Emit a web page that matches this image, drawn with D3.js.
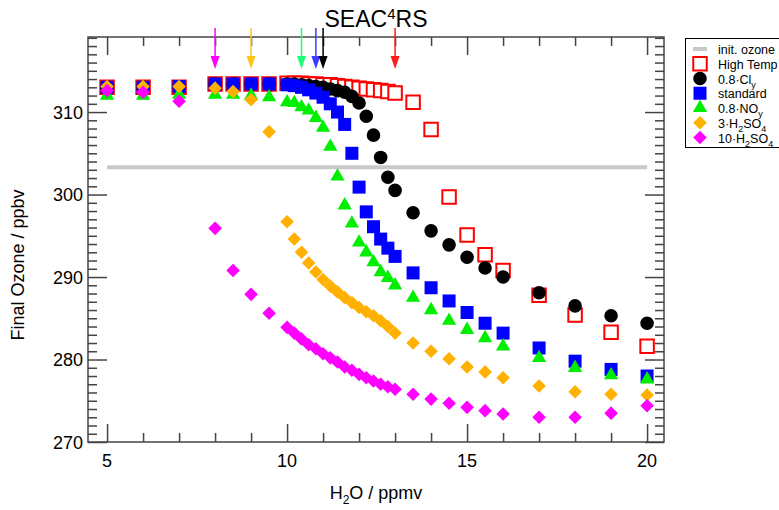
<!DOCTYPE html>
<html>
<head>
<meta charset="utf-8">
<script src="https://cdn.jsdelivr.net/npm/d3@7"></script>
<style>
  body { margin: 0; background: #fff; }
  svg { display: block; font-family: "Liberation Sans", Arial, sans-serif; }
</style>
</head>
<body>
<svg id="chart"></svg>
<script>
let width = 779;
let height = 510;

// H2O mixing ratio (ppmv) shared by every run
let h2o = [5, 6, 7, 8, 8.5, 9, 9.5,
  10, 10.2, 10.4, 10.6, 10.8, 11, 11.2, 11.4, 11.6, 11.8, 12, 12.2, 12.4, 12.6, 12.8, 13,
  13.5, 14, 14.5, 15, 15.5, 16, 17, 18, 19, 20];

// final ozone (ppbv) per run
let highTemp = [313.0, 313.0, 313.0, 313.4, 313.4, 313.4, 313.4,
  313.5, 313.5, 313.5, 313.4, 313.4, 313.3, 313.3, 313.2, 313.1, 313.0, 312.9, 312.8, 312.7, 312.6, 312.5, 312.3,
  311.2, 307.9, 299.7, 295.1, 292.7, 290.8, 287.8, 285.4, 283.3, 281.6];
let cly08 = [313.0, 313.0, 313.0, 313.4, 313.4, 313.4, 313.4,
  313.4, 313.4, 313.3, 313.2, 313.1, 313.0, 312.8, 312.6, 312.4, 311.9, 311.1, 309.5, 307.2, 304.5, 302.1, 300.5,
  297.8, 295.6, 293.9, 292.4, 291.1, 290.0, 288.1, 286.5, 285.3, 284.4];
let standard = [313.0, 313.0, 313.1, 313.4, 313.4, 313.4, 313.4,
  313.3, 313.2, 313.0, 312.7, 312.3, 311.8, 311.0, 310.0, 308.5, 305.0, 300.9, 297.9, 296.1, 294.6, 293.5, 292.5,
  290.5, 288.7, 287.1, 285.7, 284.4, 283.2, 281.4, 279.8, 278.8, 278.0];
let noy08 = [312.0, 312.0, 312.1, 312.1, 312.1, 312.0, 311.8,
  311.2, 311.1, 310.6, 310.2, 309.3, 308.1, 305.8, 302.2, 298.7, 296.5, 294.2, 293.0, 291.8, 290.6, 289.9, 289.0,
  287.5, 286.0, 284.7, 283.6, 282.6, 281.6, 280.2, 279.0, 278.1, 277.6];
let h2so4x3 = [313.1, 313.1, 313.1, 312.9, 312.5, 311.5, 307.6,
  296.7, 294.6, 293.0, 291.7, 290.6, 289.7, 288.9, 288.2, 287.5, 286.9, 286.3, 285.8, 285.3, 284.7, 284.0, 283.2,
  282.0, 281.0, 280.1, 279.1, 278.5, 277.8, 276.8, 276.1, 275.8, 275.7];
let h2so4x10 = [312.6, 312.4, 311.3, 295.9, 290.8, 287.9, 285.6,
  283.9, 283.2, 282.5, 281.8, 281.3, 280.7, 280.2, 279.7, 279.1, 278.7, 278.2, 277.8, 277.4, 277.0, 276.7, 276.4,
  275.8, 275.2, 274.7, 274.2, 273.8, 273.4, 273.0, 273.0, 273.5, 274.4];

let initOzone = 303.3;

// arrows on top axis
let arrowX = [8, 9, 10.4, 10.8, 11, 13];
let arrowColors = ['#ff00ff', '#ffc61a', '#1aff77', '#3d3dff', '#000000', '#ff1a1a'];

let xMajor = [5, 10, 15, 20];
let xMinor = d3.range(5, 21).filter(v => v % 5 !== 0);
let yMajor = [270, 280, 290, 300, 310];
let yMinor = d3.range(271, 320).filter(v => v % 10 !== 0);

let series = [
  { values: highTemp, shape: 'open', color: '#ff0000', label: [['High Temp', '']] },
  { values: cly08, shape: 'circle', color: '#000000', label: [['0.8·Cl', ''], ['y', 'sub']] },
  { values: standard, shape: 'square', color: '#0000ff', label: [['standard', '']] },
  { values: noy08, shape: 'triangle', color: '#00ee00', label: [['0.8·NO', ''], ['y', 'sub']] },
  { values: h2so4x3, shape: 'diamond', color: '#ffb000', label: [['3·H', ''], ['2', 'sub'], ['SO', ''], ['4', 'sub']] },
  { values: h2so4x10, shape: 'diamond', color: '#ff00ff', label: [['10·H', ''], ['2', 'sub'], ['SO', ''], ['4', 'sub']] }
];

let plotLeft = 88, plotRight = 664, plotTop = 37, plotBottom = 442;

let xScale = d3.scaleLinear()
                .domain([4.47, 20.47])
                .range([plotLeft, plotRight]);

let yScale = d3.scaleLinear()
                .domain([270, 319.1])
                .range([plotBottom, plotTop]);

let svg = d3.select('#chart')
            .attr('width', width)
            .attr('height', height);

svg.append('rect')
    .attr('width', width)
    .attr('height', height)
    .attr('fill', '#fff');

// reference line
svg.append('line')
    .attr('x1', xScale(5))
    .attr('x2', xScale(20))
    .attr('y1', yScale(initOzone))
    .attr('y2', yScale(initOzone))
    .attr('stroke', '#c8c8c8')
    .attr('stroke-width', 4);

function markerPath(shape) {
  if (shape === 'circle') return d3.symbol(d3.symbolCircle, Math.PI * 6.8 * 6.8)();
  if (shape === 'triangle') return d3.symbol(d3.symbolTriangle, 88)();
  if (shape === 'diamond') return d3.symbol(d3.symbolSquare, 92)();
  if (shape === 'open') return d3.symbol(d3.symbolSquare, 13.5 * 13.5)();
  return d3.symbol(d3.symbolSquare, 13 * 13)();
}

function drawMarker(sel, d) {
  sel.append('path')
      .attr('d', markerPath(d.shape))
      .attr('transform', d.shape === 'diamond' ? 'rotate(45)' : null)
      .attr('fill', d.shape === 'open' ? '#fff' : d.color)
      .attr('stroke', d.shape === 'open' ? d.color : 'none')
      .attr('stroke-width', d.shape === 'open' ? 2 : 0);
}

series.forEach(s => {
  svg.append('g')
    .selectAll('g')
    .data(h2o.map((x, i) => ({ x: x, y: s.values[i] })))
    .enter()
    .append('g')
      .attr('transform', d => `translate(${xScale(d.x)},${yScale(d.y)})`)
      .each(function () { drawMarker(d3.select(this), s); });
});

// axes: ticks point inward on all four sides
function tickAxis(axisFn, scale, values, size, y0, x0) {
  let g = svg.append('g')
      .attr('transform', `translate(${x0 || 0},${y0 || 0})`)
      .call(axisFn(scale).tickValues(values).tickSize(size).tickSizeOuter(0).tickFormat(''));
  g.select('.domain').remove();
  g.selectAll('line').attr('stroke', '#444').attr('stroke-width', 1.5);
  return g;
}

tickAxis(d3.axisBottom, xScale, xMinor, -9, plotBottom);
tickAxis(d3.axisBottom, xScale, xMajor, -18, plotBottom);
tickAxis(d3.axisTop, xScale, xMinor, -9, plotTop);
tickAxis(d3.axisTop, xScale, xMajor, -18, plotTop);
tickAxis(d3.axisLeft, yScale, yMinor, -9, 0, plotLeft);
tickAxis(d3.axisLeft, yScale, yMajor, -19, 0, plotLeft);
tickAxis(d3.axisRight, yScale, yMinor, -9, 0, plotRight);
tickAxis(d3.axisRight, yScale, yMajor, -19, 0, plotRight);

svg.append('rect')
    .attr('x', plotLeft)
    .attr('y', plotTop)
    .attr('width', plotRight - plotLeft)
    .attr('height', plotBottom - plotTop)
    .attr('fill', 'none')
    .attr('stroke', '#444')
    .attr('stroke-width', 1.5);

svg.append('g')
    .selectAll('text')
    .data(xMajor)
    .enter()
    .append('text')
      .attr('x', d => xScale(d))
      .attr('y', 467)
      .attr('text-anchor', 'middle')
      .style('font-size', '18px')
      .text(d => d);

svg.append('g')
    .selectAll('text')
    .data(yMajor)
    .enter()
    .append('text')
      .attr('x', plotLeft - 5)
      .attr('y', d => yScale(d) + 6.5)
      .attr('text-anchor', 'end')
      .style('font-size', '18px')
      .text(d => d);

// arrows
let arrows = svg.append('g')
    .selectAll('g')
    .data(arrowX)
    .enter()
    .append('g')
      .attr('transform', d => `translate(${xScale(d)},0)`);

arrows.append('line')
    .attr('y1', 28)
    .attr('y2', 60)
    .attr('stroke', (d, i) => arrowColors[i])
    .attr('stroke-width', 1.5);

arrows.append('path')
    .attr('d', 'M-4.5,56L4.5,56L0,69Z')
    .attr('fill', (d, i) => arrowColors[i]);

// title and axis labels
let title = svg.append('text')
    .attr('x', (plotLeft + plotRight) / 2)
    .attr('y', 27)
    .attr('text-anchor', 'middle')
    .style('font-size', '23px');
title.append('tspan').text('SEAC');
title.append('tspan').attr('dy', -8).style('font-size', '15px').text('4');
title.append('tspan').attr('dy', 8).text('RS');

let xLabel = svg.append('text')
    .attr('x', (plotLeft + plotRight) / 2)
    .attr('y', 499)
    .attr('text-anchor', 'middle')
    .style('font-size', '18px');
xLabel.append('tspan').text('H');
xLabel.append('tspan').attr('dy', 5).style('font-size', '12px').text('2');
xLabel.append('tspan').attr('dy', -5).text('O / ppmv');

svg.append('text')
    .attr('transform', 'translate(24,265) rotate(-90)')
    .attr('text-anchor', 'middle')
    .style('font-size', '18px')
    .text('Final Ozone / ppbv');

// legend
let legend = svg.append('g');

legend.append('rect')
    .attr('x', 685.5)
    .attr('y', 38.5)
    .attr('width', 120)
    .attr('height', 109)
    .attr('fill', '#fff')
    .attr('stroke', '#000')
    .attr('stroke-width', 1);

let legendY = d3.range(7).map(i => 49 + i * 14.75);

legend.append('line')
    .attr('x1', 693)
    .attr('x2', 707)
    .attr('y1', legendY[0])
    .attr('y2', legendY[0])
    .attr('stroke', '#c8c8c8')
    .attr('stroke-width', 4);

legend.append('text')
    .attr('x', 718)
    .attr('y', legendY[0] + 5)
    .style('font-size', '12.5px')
    .text('init. ozone');

series.forEach((s, i) => {
  let row = legend.append('g')
      .attr('transform', `translate(700,${legendY[i + 1]})`);
  drawMarker(row, s);
  let t = row.append('text')
      .attr('x', 18)
      .attr('y', 5)
      .style('font-size', '12.5px');
  let shift = 0;
  s.label.forEach(p => {
    let dy = p[1] === 'sub' ? 4 - shift : -shift;
    shift = p[1] === 'sub' ? 4 : 0;
    t.append('tspan')
        .attr('dy', dy)
        .style('font-size', p[1] === 'sub' ? '9px' : '12.5px')
        .text(p[0]);
  });
});
</script>
</body>
</html>
